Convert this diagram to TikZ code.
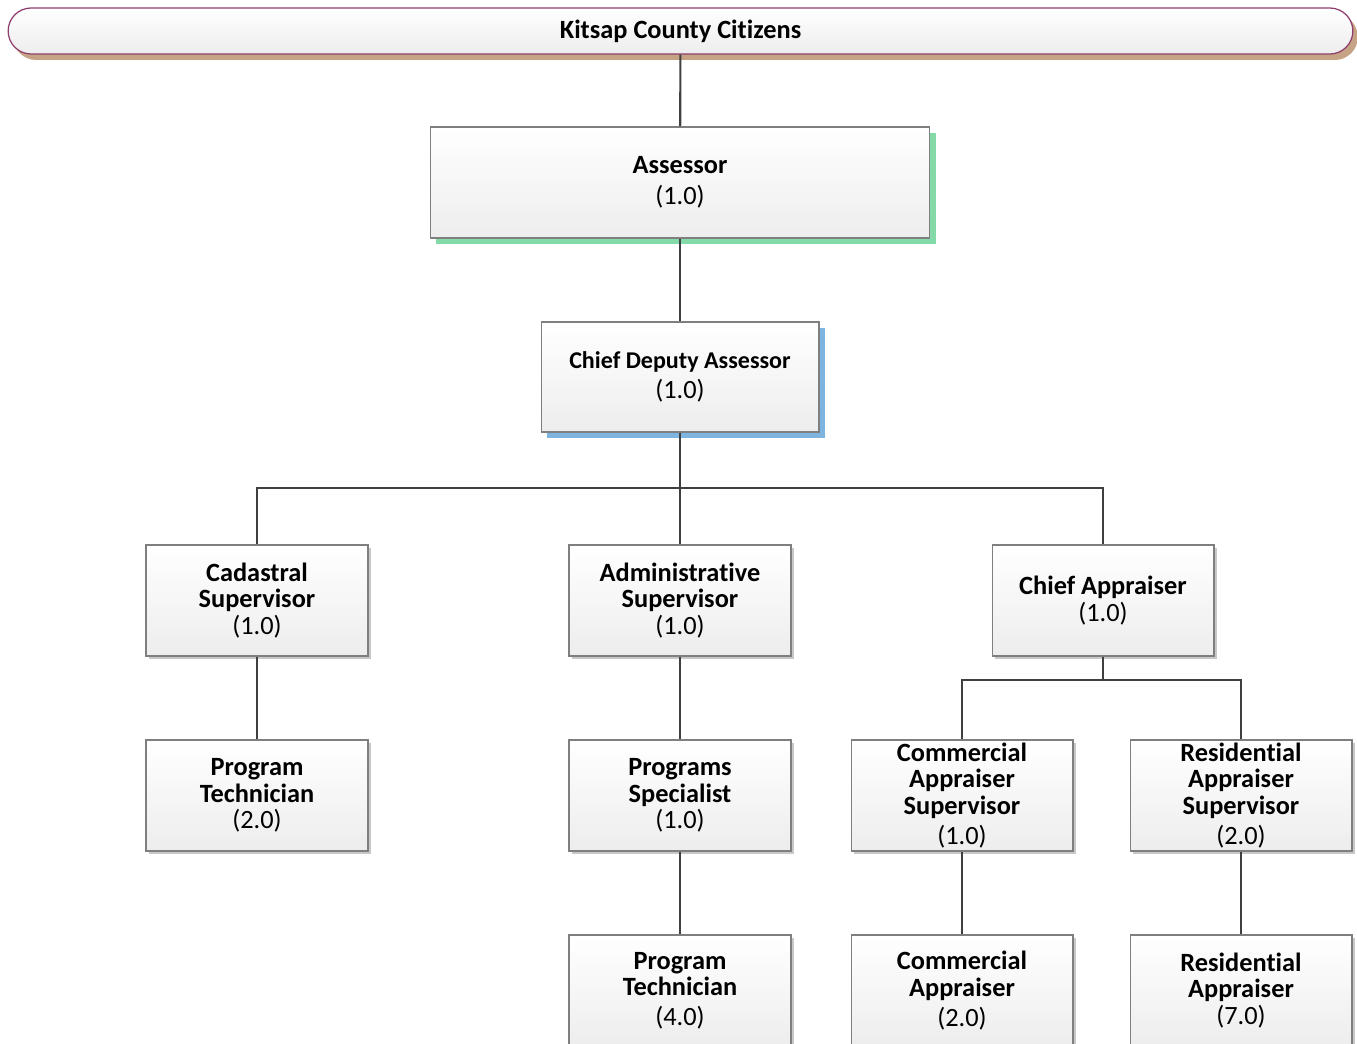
\documentclass[tikz,border=0pt]{standalone}
\usepackage{fontspec}
\setmainfont{Carlito}[Ligatures = {NoCommon, NoContextual}, Contextuals = NoAlternate, RawFeature = {-liga;-clig;-calt}]
\usetikzlibrary{shadows}

\definecolor{boxgray}{HTML}{7F7F7F}
\definecolor{boxfill}{HTML}{EDEDED}
\definecolor{linegray}{HTML}{404040}
\definecolor{shadowgray}{HTML}{C8C8C8}
\definecolor{greenshadow}{HTML}{84D9A8}
\definecolor{blueshadow}{HTML}{7DB5E0}
\definecolor{tanshadow}{HTML}{C6A384}
\definecolor{plum}{HTML}{8E3E6E}

\tikzset{
    post/.style = {draw = boxgray, line width = .6pt, top color = white, bottom color = boxfill,
                   minimum width = 4.44cm, minimum height = 2.22cm, inner sep = 1pt,
                   align = center, font = \fontsize{15}{15}\selectfont},
    grayshadow/.style = {general shadow = {fill = shadowgray, shadow xshift = .06cm, shadow yshift = -.06cm}},
    conn/.style = {draw = linegray, line width = 1.2pt},
}

\begin{document}
\begin{tikzpicture}[x = .02cm, y = -.02cm]
                \useasboundingbox (0, 0) rectangle (1357, 1044);

                \node (citizens) at (680.5, 31) [draw = plum, line width = .7pt, top color = white, bottom color = boxfill,
                    rounded corners = .46cm, minimum width = 26.9cm, minimum height = .92cm,
                    general shadow = {fill = tanshadow, shadow xshift = .1cm, shadow yshift = -.12cm},
                    font = \fontsize{15}{15}\selectfont\bfseries] {Kitsap County Citizens};

                \node (assessor) at (680, 182.5) [post, minimum width = 10cm,
                    general shadow = {fill = greenshadow, shadow xshift = .12cm, shadow yshift = -.12cm}]
                    {\textbf{Assessor}\\[2.5pt](1.0)};
                \node (deputy) at (680, 377) [post, minimum width = 5.56cm, minimum height = 2.2cm,
                    font = \fontsize{13.7}{15}\selectfont,
                    general shadow = {fill = blueshadow, shadow xshift = .12cm, shadow yshift = -.12cm}]
                    {\textbf{Chief Deputy Assessor}\\[2.5pt]\fontsize{15}{15}\selectfont(1.0)};

                \node (cadastral) at (257, 600.5) [post, grayshadow] {\textbf{Cadastral}\\\textbf{Supervisor}\\(1.0)};
                \node (admin) at (680, 600.5) [post, grayshadow] {\textbf{Administrative}\\\textbf{Supervisor}\\(1.0)};
                \node (chiefappr) at (1103, 600.5) [post, grayshadow] {\textbf{Chief Appraiser}\\(1.0)};

                \node (cadtech) at (257, 795.5) [post, grayshadow] {\textbf{Program}\\\textbf{Technician}\\(2.0)};
                \node (progspec) at (680, 795.5) [post, grayshadow] {\textbf{Programs}\\\textbf{Specialist}\\(1.0)};
                \node (comsup) at (962, 795.5) [post, grayshadow] {\textbf{Commercial}\\\textbf{Appraiser}\\\textbf{Supervisor}\\[2pt](1.0)};
                \node (ressup) at (1241, 795.5) [post, grayshadow] {\textbf{Residential}\\\textbf{Appraiser}\\\textbf{Supervisor}\\[2pt](2.0)};

                \node (progtech) at (680, 990.5) [post, grayshadow] {\textbf{Program}\\\textbf{Technician}\\[2pt](4.0)};
                \node (comappr) at (962, 990.5) [post, grayshadow] {\textbf{Commercial}\\\textbf{Appraiser}\\[2pt](2.0)};
                \node (resappr) at (1241, 990.5) [post, grayshadow] {\textbf{Residential}\\\textbf{Appraiser}\\(7.0)};

                \coordinate (deputybus) at (680, 488);
                \coordinate (apprbus) at (1103, 680);

                \draw[conn] (citizens) -- (assessor);
                \draw[conn] (assessor) -- (deputy);
                \draw[conn] (deputy) -- (deputybus) -- (admin);
                \draw[conn] (cadastral.north) |- (deputybus) -| (chiefappr.north);
                \draw[conn] (cadastral) -- (cadtech);
                \draw[conn] (admin) -- (progspec);
                \draw[conn] (progspec) -- (progtech);
                \draw[conn] (chiefappr) -- (apprbus);
                \draw[conn] (comsup.north) |- (apprbus) -| (ressup.north);
                \draw[conn] (comsup) -- (comappr);
                \draw[conn] (ressup) -- (resappr);
            \end{tikzpicture}
\end{document}
